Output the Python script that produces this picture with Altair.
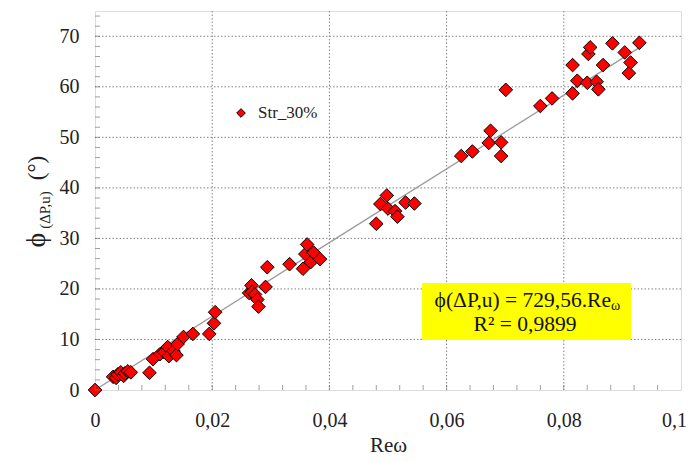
import altair as alt
import pandas as pd

# Data
re_w = [0.0, 0.0031, 0.0036, 0.0039, 0.0044, 0.0049, 0.0051, 0.0056, 0.0061, 0.0093,
        0.0099, 0.0111, 0.0118, 0.0124, 0.0126, 0.0134, 0.0139, 0.0141, 0.0151, 0.0167,
        0.0195, 0.0203, 0.0205, 0.0263, 0.0267, 0.0268, 0.0273, 0.0277, 0.0279, 0.0291,
        0.0294, 0.0332, 0.0355, 0.0359, 0.0362, 0.0368, 0.0373, 0.0384, 0.0480, 0.0487,
        0.0498, 0.0500, 0.0512, 0.0516, 0.0530, 0.0545, 0.0625, 0.0644, 0.0672, 0.0675,
        0.0693, 0.0693, 0.0701, 0.0760, 0.0780, 0.0815, 0.0815, 0.0823, 0.0840, 0.0842,
        0.0845, 0.0856, 0.0859, 0.0867, 0.0883, 0.0904, 0.0911, 0.0914, 0.0929]
phi = [0.0, 2.6, 2.4, 3.1, 3.5, 2.8, 3.3, 3.7, 3.5, 3.4,
       6.1, 7.1, 7.5, 8.5, 6.7, 7.7, 6.9, 9.1, 10.5, 11.1,
       11.1, 13.2, 15.4, 19.2, 20.7, 19.4, 18.9, 17.9, 16.5, 20.4,
       24.3, 24.9, 24.0, 26.9, 28.8, 25.3, 27.2, 25.9, 32.9, 36.8,
       38.5, 35.9, 35.4, 34.3, 37.1, 36.9, 46.3, 47.2, 48.9, 51.3,
       49.0, 46.3, 59.4, 56.2, 57.7, 58.7, 64.3, 61.2, 60.8, 66.5,
       67.8, 61.0, 59.5, 64.3, 68.6, 66.8, 62.7, 64.8, 68.7]

trend_x = [0.0, 0.0935]
trend_y = [0.0, 68.2]

x_ticks = [0, 0.02, 0.04, 0.06, 0.08, 0.1]
y_ticks = [0, 10, 20, 30, 40, 50, 60, 70]
x_minor = [0, 0.004, 0.008, 0.012, 0.016, 0.02, 0.024, 0.028, 0.032, 0.036, 0.04,
           0.044, 0.048, 0.052, 0.056, 0.06, 0.064, 0.068, 0.072, 0.076, 0.08,
           0.084, 0.088, 0.092, 0.096]
y_minor = list(range(0, 76, 2))

W, H = 586, 379
FONT = "Liberation Serif"

xscale = alt.Scale(domain=[0, 0.1], nice=False, zero=False)
yscale = alt.Scale(domain=[0, 75], nice=False, zero=False)

pts = pd.DataFrame({"x": re_w, "y": phi})
trend = pd.DataFrame({"x": trend_x, "y": trend_y})

x_axis = alt.Axis(values=x_ticks, title="Reω", titleFont=FONT, titleFontSize=21,
                  titleFontWeight="normal", titleColor="#222", titlePadding=4,
                  labelFont=FONT, labelFontSize=20, labelColor="#222", labelPadding=20,
                  labelExpr="replace(format(datum.value, '.2~f'), '.', ',')",
                  labelOffset={"condition": {"test": "datum.value >= 0.1", "value": -7},
                               "value": 0},
                  ticks=False, domain=False, grid=False, labelFlush=False)
y_axis = alt.Axis(values=y_ticks, title="", labelFont=FONT, labelFontSize=20,
                  labelColor="#222", labelPadding=16, ticks=False, domain=False,
                  grid=False, labelFlush=False)

xgrid = alt.Chart(pd.DataFrame({"v": x_ticks[1:-1]})).mark_rule(
    color="#808080", strokeWidth=1, strokeDash=[1.5, 2]
).encode(x=alt.X("v:Q", scale=xscale, axis=x_axis))
ygrid = alt.Chart(pd.DataFrame({"v": y_ticks[1:]})).mark_rule(
    color="#808080", strokeWidth=1, strokeDash=[1.5, 2]
).encode(y=alt.Y("v:Q", scale=yscale, axis=y_axis))

base_pts = alt.Chart(pts).mark_point(
    shape="diamond", filled=True, fill="#ff0000", stroke="#000000",
    strokeWidth=1, size=185, opacity=1, fillOpacity=1
).encode(
    x=alt.X("x:Q", scale=xscale, axis=x_axis),
    y=alt.Y("y:Q", scale=yscale, axis=y_axis),
)

line = alt.Chart(trend).mark_line(color="#9a9a9a", strokeWidth=1.4).encode(
    x=alt.X("x:Q", scale=xscale, axis=x_axis),
    y=alt.Y("y:Q", scale=yscale, axis=y_axis),
)

ytick = alt.Chart(pd.DataFrame({"v": y_minor})).mark_tick(
    color="#777", size=5, thickness=1
).encode(y=alt.Y("v:Q", scale=yscale, axis=y_axis), x=alt.value(2.5))
xtick = alt.Chart(pd.DataFrame({"v": x_minor})).mark_tick(
    color="#777", size=5, thickness=1
).encode(x=alt.X("v:Q", scale=xscale, axis=x_axis), y=alt.value(H - 2.5))

# legend
leg_df = pd.DataFrame({"label": ["Str_30%"]})
leg_sym = alt.Chart(leg_df).mark_point(
    shape="diamond", filled=True, fill="#ff0000", stroke="#000", strokeWidth=1,
    size=75, opacity=1).encode(x=alt.value(146), y=alt.value(102))
leg_txt = alt.Chart(leg_df).mark_text(
    font=FONT, fontSize=17, align="left", baseline="middle", color="#222"
).encode(x=alt.value(163), y=alt.value(102), text="label:N")

# yellow equation box
box = alt.Chart(pd.DataFrame({"a": [1]})).mark_rect(color="#ffff00").encode(
    x=alt.value(327), x2=alt.value(536), y=alt.value(272), y2=alt.value(329))
eq1 = alt.Chart(pd.DataFrame({"t": ["ϕ(ΔP,u) = 729,56.Re"]})).mark_text(
    font=FONT, fontSize=21.5, align="right", baseline="middle", color="#111"
).encode(x=alt.value(516), y=alt.value(290), text="t:N")
eq1s = alt.Chart(pd.DataFrame({"t": ["ω"]})).mark_text(
    font=FONT, fontSize=14, align="left", baseline="middle", color="#111"
).encode(x=alt.value(516), y=alt.value(295), text="t:N")
eq2 = alt.Chart(pd.DataFrame({"t": ["R² = 0,9899"]})).mark_text(
    font=FONT, fontSize=21.5, align="center", baseline="middle", color="#111"
).encode(x=alt.value(430), y=alt.value(314), text="t:N")

# y title pieces (rotated)
yt1 = alt.Chart(pd.DataFrame({"t": ["ϕ"]})).mark_text(
    font=FONT, fontSize=28, angle=270, align="center", baseline="middle", color="#222"
).encode(x=alt.value(-58), y=alt.value(229), text="t:N")
yt2 = alt.Chart(pd.DataFrame({"t": ["(ΔP,u)"]})).mark_text(
    font=FONT, fontSize=15, angle=270, align="center", baseline="middle", color="#222"
).encode(x=alt.value(-50), y=alt.value(199), text="t:N")
yt3 = alt.Chart(pd.DataFrame({"t": ["(°)"]})).mark_text(
    font=FONT, fontSize=23, angle=270, align="center", baseline="middle", color="#222"
).encode(x=alt.value(-58), y=alt.value(157), text="t:N")

chart = alt.layer(
    xgrid, ygrid, line, base_pts, ytick, xtick, leg_sym, leg_txt, box, eq1, eq1s, eq2,
    yt1, yt2, yt3
).properties(
    width=W, height=H,
    autosize=alt.AutoSizeParams(type="none"),
    padding={"left": 87, "top": 3, "right": 6, "bottom": 69},
).configure_view(
    stroke="#a0a0a0", strokeWidth=1.5
).configure(background="white")

chart.save("out.html", embed_options={"renderer": "svg", "actions": False})
